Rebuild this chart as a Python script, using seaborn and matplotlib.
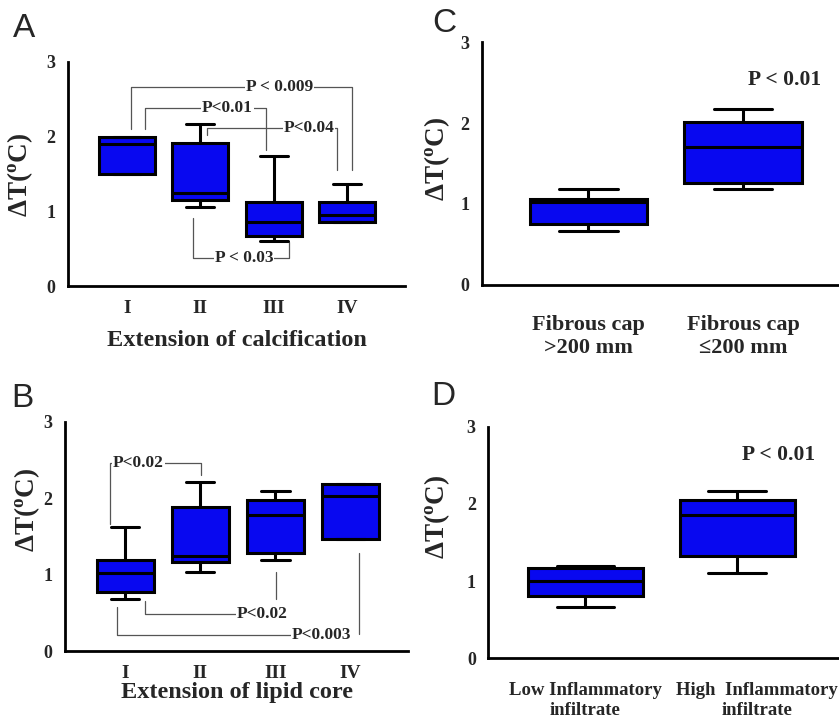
import seaborn as sns
import matplotlib.pyplot as plt
import matplotlib.transforms as mtransforms
import pandas as pd

# five-number summaries: min, q1, median, q3, max
calc_groups = ["I", "II", "III", "IV"]
calc_I = [1.50, 1.50, 1.90, 2.00, 2.00]
calc_II = [1.06, 1.15, 1.25, 1.91, 2.17]
calc_III = [0.61, 0.67, 0.86, 1.13, 1.74]
calc_IV = [0.86, 0.86, 0.95, 1.13, 1.37]

lipid_groups = ["I", "II", "III", "IV"]
lipid_I = [0.69, 0.77, 1.03, 1.20, 1.62]
lipid_II = [1.04, 1.17, 1.24, 1.89, 2.21]
lipid_III = [1.20, 1.28, 1.78, 1.98, 2.10]
lipid_IV = [1.47, 1.47, 2.03, 2.19, 2.19]

cap_groups = ["Fibrous cap\n>200 mm", "Fibrous cap\n\u2264200 mm"]
cap_thick = [0.67, 0.755, 1.02, 1.06, 1.18]
cap_thin = [1.18, 1.26, 1.71, 2.01, 2.17]

infl_groups = ["Low Inflammatory\ninfiltrate", "High  Inflammatory\ninfiltrate"]
infl_low = [0.67, 0.81, 1.00, 1.17, 1.19]
infl_high = [1.11, 1.33, 1.86, 2.05, 2.17]

sns.set_style("white")
plt.rcParams['font.family'] = ['Liberation Serif', 'DejaVu Serif']
plt.rcParams['font.weight'] = 'bold'
plt.rcParams['mathtext.fontset'] = 'custom'
plt.rcParams['mathtext.rm'] = 'Liberation Serif:bold'
plt.rcParams['mathtext.it'] = 'Liberation Serif:bold'

BLUE = '#0808F0'
GRAY = '#555555'


def long_df(groups, series):
    rows = []
    for g, vals in zip(groups, series):
        for v in vals:
            rows.append({'grp': g, 'val': v})
    return pd.DataFrame(rows)


def box_panel(ax, groups, series, xlim, xfs):
    df = long_df(groups, series)
    sns.boxplot(data=df, x='grp', y='val', ax=ax, color=BLUE, saturation=1,
                width=0.76, whis=(0, 100), linewidth=2.2, linecolor='black',
                showfliers=False)
    ax.set_xlim(*xlim)
    ax.set_ylim(0, 3)
    ax.set_yticks([0, 1, 2, 3])
    ax.set_xlabel('')
    ax.set_ylabel('\u0394T($^{\\rm o}$C)', fontsize=19.5, fontweight='bold')
    for s in ['top', 'right']:
        ax.spines[s].set_visible(False)
    for s in ['left', 'bottom']:
        ax.spines[s].set_linewidth(2)
        ax.spines[s].set_color('black')
    ax.tick_params(axis='y', direction='out', length=5, width=2, labelsize=13, pad=4)
    ax.tick_params(axis='x', direction='inout', length=4, width=3.5, labelsize=xfs, pad=8)
    for t in ax.get_xticklabels() + ax.get_yticklabels():
        t.set_fontweight('bold')
    ax.patch.set_alpha(0)


def bracket(ax, pts, text=None, tx=None, ty=None, fs=12.5):
    xs = [p[0] for p in pts]
    ys = [p[1] for p in pts]
    ax.plot(xs, ys, color=GRAY, lw=0.9, zorder=1)
    if text:
        ax.text(tx, ty, text, ha='center', va='center', fontsize=fs, fontweight='bold',
                bbox=dict(facecolor='white', edgecolor='none', pad=0.5), zorder=3)


fig = plt.figure(figsize=(8.39, 7.19), dpi=100)
axA = fig.add_axes([0.081, 0.602, 0.402, 0.312])
axC = fig.add_axes([0.574, 0.604, 0.426, 0.337])
axB = fig.add_axes([0.0775, 0.094, 0.409, 0.3195])
axD = fig.add_axes([0.582, 0.0844, 0.418, 0.322])

# A
box_panel(axA, calc_groups, [calc_I, calc_II, calc_III, calc_IV], (-0.8, 3.79), 14)
axA.set_xlabel('Extension of calcification', fontsize=17.5, fontweight='bold', labelpad=9)
bracket(axA, [(0.055, 2.1), (0.055, 2.66), (3.06, 2.66), (3.06, 1.55)], 'P < 0.009', 2.08, 2.66)
bracket(axA, [(0.25, 2.1), (0.25, 2.38), (1.9, 2.38), (1.9, 1.82)], 'P<0.01', 1.37, 2.38)
bracket(axA, [(1.09, 2.02), (1.09, 2.11), (2.86, 2.11), (2.86, 1.55)], 'P<0.04', 2.48, 2.11)
bracket(axA, [(0.9, 0.91), (0.9, 0.37), (2.21, 0.37), (2.21, 0.59)], 'P < 0.03', 1.6, 0.37)

# C
box_panel(axC, cap_groups, [cap_thick, cap_thin], (-0.69, 1.62), 16)
axC.tick_params(axis='x', pad=20)
for t in axC.get_xticklabels():
    t.set_linespacing(1.15)
axC.text(1.27, 2.54, 'P < 0.01', ha='center', va='center', fontsize=15.5, fontweight='bold')

# B
box_panel(axB, lipid_groups, [lipid_I, lipid_II, lipid_III, lipid_IV], (-0.8, 3.77), 14)
axB.set_xlabel('Extension of lipid core', fontsize=17.5, fontweight='bold', labelpad=0)
bracket(axB, [(-0.2, 1.66), (-0.2, 2.46), (1.01, 2.46), (1.01, 2.30)], 'P<0.02', 0.18, 2.46)
bracket(axB, [(0.27, 0.66), (0.27, 0.49), (1.82, 0.49)], 'P<0.02', 1.82, 0.49)
bracket(axB, [(2.01, 1.04), (2.01, 0.68)])
bracket(axB, [(-0.11, 0.58), (-0.11, 0.22), (2.62, 0.22)], 'P<0.003', 2.62, 0.22)
bracket(axB, [(3.12, 1.29), (3.12, 0.23)])

# D
box_panel(axD, infl_groups, [infl_low, infl_high], (-0.64, 1.67), 13.5)
axD.tick_params(axis='x', pad=15)
dlabels = axD.get_xticklabels()
for t in dlabels:
    t.set_linespacing(1.2)
# the right-hand label sits a little right of its box in the original
dlabels[1].set_transform(dlabels[1].get_transform() +
                         mtransforms.ScaledTranslation(0.2, 0, fig.dpi_scale_trans))
axD.text(1.27, 2.64, 'P < 0.01', ha='center', va='center', fontsize=15.5, fontweight='bold')

# panel letters
for lab, x, y in [('A', 0.016, 0.948), ('C', 0.515, 0.956), ('B', 0.014, 0.434), ('D', 0.514, 0.437)]:
    fig.text(x, y, lab, fontsize=24, family='Liberation Sans', fontweight='normal')

for ax, x, y in [(axA, 0.042, 0.757), (axC, 0.539, 0.779), (axB, 0.05, 0.291), (axD, 0.539, 0.281)]:
    ax.yaxis.set_label_coords(x, y, transform=fig.transFigure)

fig.savefig('out.png', dpi=100)
